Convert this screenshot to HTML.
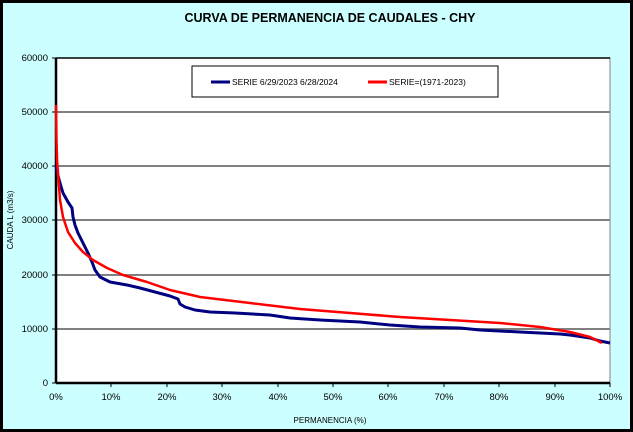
<!DOCTYPE html>
<html><head><meta charset="utf-8"><style>
body{margin:0;background:#fff}
svg{display:block;font-family:"Liberation Sans",Arial,sans-serif}
</style></head><body>
<svg width="633" height="432" viewBox="0 0 633 432">
<rect x="1.5" y="1.5" width="630" height="429" fill="#ccffff" stroke="#000" stroke-width="3"/>
<text x="330" y="22" text-anchor="middle" font-size="12.5" font-weight="bold">CURVA DE PERMANENCIA DE CAUDALES - CHY</text>
<rect x="56" y="58" width="554" height="325" fill="#fff" stroke="#808080"/>
<g stroke="#808080" stroke-width="2">
<line x1="56" y1="112" x2="610" y2="112"/><line x1="56" y1="166" x2="610" y2="166"/>
<line x1="56" y1="220" x2="610" y2="220"/><line x1="56" y1="275" x2="610" y2="275"/>
<line x1="56" y1="329" x2="610" y2="329"/>
</g>
<g stroke="#000" stroke-width="2.5" fill="none">
<line x1="56" y1="58" x2="56" y2="383"/><line x1="56" y1="383" x2="610" y2="383"/>
<line x1="56" y1="58" x2="610" y2="58" stroke-width="1.5"/>
</g>
<g font-size="9.5" text-anchor="end">
<text x="48" y="61">60000</text><text x="48" y="115">50000</text><text x="48" y="169">40000</text>
<text x="48" y="223">30000</text><text x="48" y="278">20000</text><text x="48" y="332">10000</text><text x="48" y="386">0</text>
</g>
<g stroke="#000"><line x1="52" y1="58" x2="56" y2="58"/><line x1="52" y1="112" x2="56" y2="112"/><line x1="52" y1="166" x2="56" y2="166"/><line x1="52" y1="220" x2="56" y2="220"/><line x1="52" y1="275" x2="56" y2="275"/><line x1="52" y1="329" x2="56" y2="329"/><line x1="52" y1="383" x2="56" y2="383"/>
<line x1="111" y1="383" x2="111" y2="387"/><line x1="167" y1="383" x2="167" y2="387"/><line x1="222" y1="383" x2="222" y2="387"/><line x1="278" y1="383" x2="278" y2="387"/><line x1="333" y1="383" x2="333" y2="387"/><line x1="388" y1="383" x2="388" y2="387"/><line x1="444" y1="383" x2="444" y2="387"/><line x1="499" y1="383" x2="499" y2="387"/><line x1="555" y1="383" x2="555" y2="387"/><line x1="610" y1="383" x2="610" y2="387"/></g>
<g font-size="9.5" text-anchor="middle">
<text x="56" y="400">0%</text><text x="111" y="400">10%</text><text x="167" y="400">20%</text><text x="222" y="400">30%</text><text x="278" y="400">40%</text><text x="333" y="400">50%</text><text x="388" y="400">60%</text><text x="444" y="400">70%</text><text x="499" y="400">80%</text><text x="555" y="400">90%</text><text x="610" y="400">100%</text>
</g>
<text x="330" y="423" text-anchor="middle" font-size="8">PERMANENCIA (%)</text>
<text transform="translate(13,220) rotate(-90)" text-anchor="middle" font-size="8">CAUDA L (m3/s)</text>
<rect x="192" y="66" width="306" height="31" fill="#fff" stroke="#000"/>
<line x1="211" y1="82" x2="230" y2="82" stroke="#000080" stroke-width="3"/>
<text x="232" y="85" font-size="8.5">SERIE 6/29/2023 6/28/2024</text>
<line x1="368" y1="82" x2="387" y2="82" stroke="#ff0000" stroke-width="3"/>
<text x="389" y="85" font-size="8.5">SERIE=(1971-2023)</text>
<polyline fill="none" stroke="#000080" stroke-width="3" stroke-linejoin="round" points="56,166 57,172 60,183 63,193 68,202 72,208 73,217 75,225 78,233 83,243 88,253 92,262 95,270 100,277 110,282 127,285 140,288 155,292 170,296 178,299 180,304 185,307 195,310 210,312 235,313 270,315 290,318 320,320 360,322 390,325 420,327 460,328 480,330 520,332 560,334 570,335 590,338 600,341 610,343"/>
<polyline fill="none" stroke="#ff0000" stroke-width="2.5" stroke-linejoin="round" points="56,105 56.5,140 57,160 60,200 63,217 68,232 75,243 83,252 93,260 107,268 123,275 147,282 170,290 200,297 250,303 300,309 350,313 400,317 450,320 500,323 540,327 570,332 590,337 602,343"/>
</svg>
</body></html>
